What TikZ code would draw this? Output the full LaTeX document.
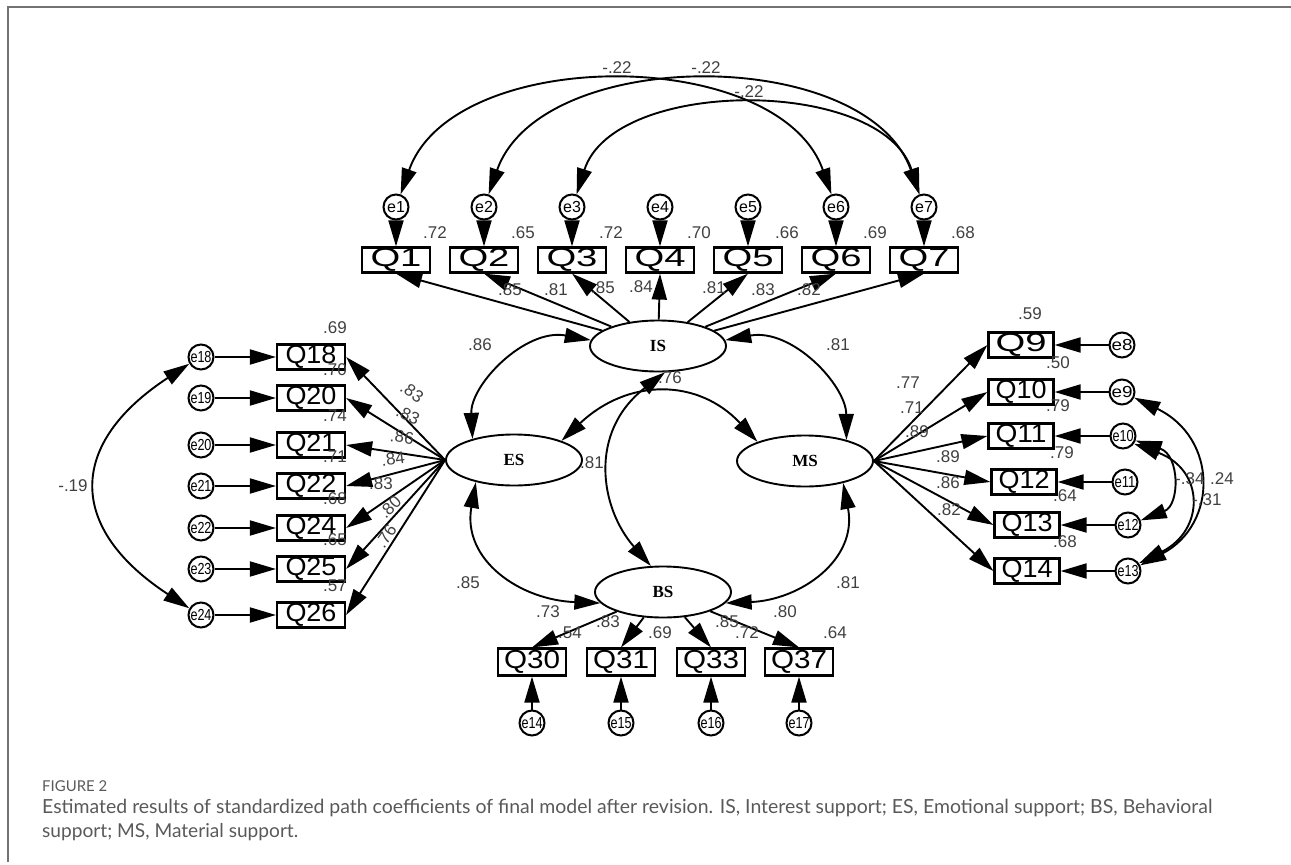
\documentclass[tikz,border=0pt]{standalone}
\usepackage{fontspec}
\setmainfont{Liberation Sans}
\newfontfamily\serifb{Liberation Serif}
\newfontfamily\capfont{Lato}
\usetikzlibrary{arrows.meta,shapes.geometric}
\newcommand\qw[1]{\resizebox{51pt}{\height}{#1}}
\newcommand\qww[1]{\resizebox{56pt}{\height}{#1}}
\newcommand\ew[1]{\resizebox{21pt}{\height}{#1}}
\begin{document}
\begin{tikzpicture}[x=1pt,y=-1pt,
  >={Triangle[length=26pt,width=15pt]},
  ln/.style={line width=1.9pt, draw=black},
  qbox/.style={draw, fill=white, line width=2.2pt, minimum width=68pt, minimum height=25pt, inner sep=0pt, font=\fontsize{26}{26}\selectfont},
  err/.style={draw, fill=white, circle, line width=2pt, minimum size=25pt, inner sep=0pt, font=\fontsize{16}{16}\selectfont},
  lat/.style={draw, fill=white, ellipse, line width=1.9pt, minimum width=136pt, minimum height=51pt, inner sep=0pt, font=\fontsize{17}{17}\serifb\bfseries},
  coef/.style={font=\fontsize{17}{17}\selectfont, text=black!75, inner sep=0pt},
  captxt/.style={anchor=west, inner sep=0pt, text=black!65, font=\capfont\fontsize{18}{18}\selectfont},
]
\useasboundingbox (0,0) rectangle (1291,865);
\draw[line width=2pt, black!55] (8,862) -- (8,7) -- (1291,7);

% latent variables
\node[lat] (IS) at (658,346) {IS};
\node[lat] (ES) at (514,460) {ES};
\node[lat] (MS) at (805,461) {MS};
\node[lat] (BS) at (663,592) {BS};

% top row
\foreach \i/\x in {1/396,2/484,3/572,4/660,5/748,6/836,7/924} {
  \node[qbox] (Q\i) at (\x,260) {\qw{Q\i}};
  \node[err] (e\i) at (\x,207) {e\i};
  \draw[ln,->] (e\i) -- (Q\i);
  \draw[ln,->] (IS) -- (Q\i.south);
}
\foreach \x/\t in {435/.72,523/.65,611/.72,699/.70,787/.66,875/.69,963/.68}
  \node[coef] at (\x,233) {\t};
\foreach \x/\y/\t in {510/290/.85,556/290/.81,603/288/.85,641/287/.84,714/288/.81,763/290/.83,809/290/.82}
  \node[coef] at (\x,\y) {\t};

% top covariances
\draw[ln,<->] (e1.70) .. controls (453,45) and (779,45) .. (e6.110);
\draw[ln,<->] (e2.70) .. controls (541,45) and (867,45) .. (e7.110);
\draw[ln,<->] (e3.70) .. controls (614,77) and (882,77) .. (e7.110);
\node[coef] at (617,68) {-.22};
\node[coef] at (706,68) {-.22};
\node[coef] at (749,92) {-.22};

% left column
\foreach \n/\e/\y in {18/18/357,20/19/398,21/20/445,22/21/486,24/22/528,25/23/569,26/24/615} {
  \node[qbox] (Q\n) at (311,\y) {\qw{Q\n}};
  \node[err] (e\e) at (201,\y) {\ew{e\e}};
  \draw[ln,->] (e\e) -- (Q\n);
  \draw[ln,->] (ES.180) -- (Q\n.east);
}
\foreach \y/\t in {328/.69,370/.70,416/.74,457/.71,499/.68,540/.65,586/.57}
  \node[coef] at (335,\y) {\t};
\node[coef,rotate=-35] at (412,392) {.83};
\node[coef,rotate=-25] at (408,415) {.83};
\node[coef,rotate=-8] at (402,437) {.86};
\node[coef,rotate=8] at (393,459) {.84};
\node[coef] at (381,484) {.83};
\node[coef,rotate=45] at (390,507) {.80};
\node[coef,rotate=55] at (386,536) {.76};
\draw[ln,<->] (e18.210) .. controls (67,444) and (67,528) .. (e24.150);
\node[coef] at (73,486) {-.19};

% right column
\foreach \n/\e/\qx/\ex/\y in {9/8/1021/1122/345,10/9/1021/1122/392,11/10/1021/1123/436,12/11/1024/1125/482,13/12/1027/1128/525,14/13/1027/1128/571} {
  \node[qbox,minimum width=65pt] (Q\n) at (\qx,\y) {\qw{Q\n}};
  \node[err] (e\e) at (\ex,\y) {\ew{e\e}};
  \draw[ln,->] (e\e) -- (Q\n);
  \draw[ln,->] (MS.0) -- (Q\n.west);
}
\node[coef] at (1030,314) {.59};
\node[coef] at (1058,363) {.50};
\node[coef] at (1058,406) {.79};
\node[coef] at (1062,453) {.79};
\node[coef] at (1065,496) {.64};
\node[coef] at (1065,542) {.68};
\node[coef] at (908,383) {.77};
\node[coef] at (912,408) {.71};
\node[coef] at (917,432) {.89};
\node[coef] at (948,457) {.89};
\node[coef] at (948,483) {.86};
\node[coef] at (949,510) {.82};
\draw[ln,<->] (e9.-25) .. controls (1218,438) and (1218,524) .. (e13.25);
\draw[ln,<->] (e10.-20) .. controls (1180,455) and (1180,505) .. (e12.20);
\draw[ln,<->] (e10.-35) .. controls (1205,470) and (1205,530) .. (e13.35);
\node[coef,anchor=west] at (1175,479) {-.34};
\node[coef,anchor=west] at (1210,479) {.24};
\node[coef,anchor=west] at (1192,500) {-.31};

% bottom row
\foreach \n/\e/\x in {30/14/532,31/15/621,33/16/711,37/17/799} {
  \node[qbox,minimum height=27pt] (Q\n) at (\x,662) {\qww{Q\n}};
  \node[err] (e\e) at (\x,723) {\ew{e\e}};
  \draw[ln,->] (e\e) -- (Q\n);
  \draw[ln,->] (BS) -- (Q\n.north);
}
\node[coef] at (570,633) {.54};
\node[coef] at (660,633) {.69};
\node[coef] at (747,633) {.72};
\node[coef] at (835,633) {.64};
\node[coef] at (548,612) {.73};
\node[coef] at (608,622) {.83};
\node[coef] at (727,622) {.85};
\node[coef] at (785,612) {.80};

% latent covariances
\draw[ln,<->] (IS.175) .. controls (525,328) and (470,385) .. (ES.153);
\draw[ln,<->] (IS.5) .. controls (792,328) and (846,385) .. (MS.27);
\draw[ln,<->] (ES.22) .. controls (628,378) and (698,378) .. (MS.158);
\draw[ln,<->] (IS.-75) .. controls (588,432) and (600,508) .. (BS.115);
\draw[ln,<->] (ES.210) .. controls (462,560) and (520,600) .. (BS.190);
\draw[ln,<->] (MS.-30) .. controls (858,560) and (800,600) .. (BS.-10);
\node[coef] at (480,345) {.86};
\node[coef] at (838,345) {.81};
\node[coef] at (592,463) {.81};
\node[coef] at (670,378) {.76};
\node[coef] at (468,583) {.85};
\node[coef] at (848,583) {.81};

% caption
\node[captxt] (fig) at (42,786) {\resizebox{65pt}{!}{FIGURE 2}};
\node[captxt] (c1) at (42,808) {\resizebox{1170pt}{!}{Estimated results of standardized path coefficients of final model after revision. IS, Interest support; ES, Emotional support; BS, Behavioral}};
\node[captxt] (c2) at (42,832) {\resizebox{256pt}{!}{support; MS, Material support.}};
\end{tikzpicture}
\end{document}
